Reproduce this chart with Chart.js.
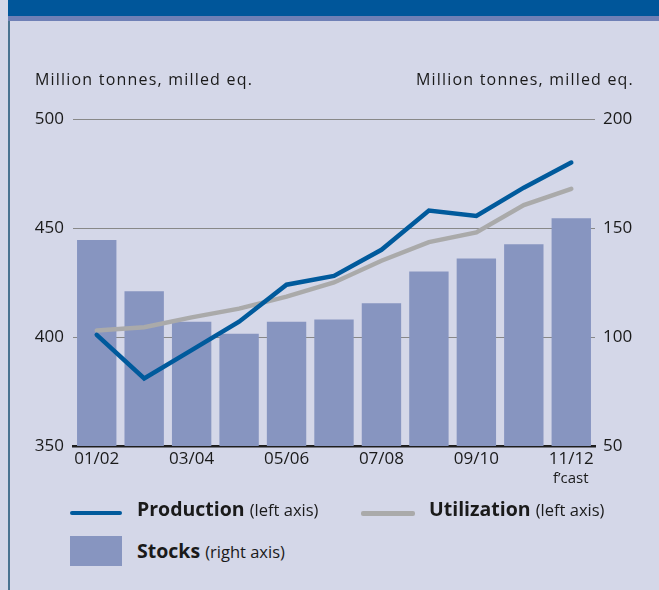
<!DOCTYPE html>
<html>
<head>
<meta charset="utf-8">
<script src="https://cdn.jsdelivr.net/npm/chart.js@4"></script>
<style>
  body { margin: 0; width: 659px; height: 590px; background: #d4d7e8; position: relative; overflow: hidden; font-family: "Open Sans", sans-serif; color: #1a1a1a; }
  #band { position: absolute; left: 8px; top: 0; width: 651px; height: 16px; background: #00569a; }
  #band2 { position: absolute; left: 8px; top: 16px; width: 651px; height: 5px; background: #6f80b6; }
  #edge { position: absolute; left: 8px; top: 21px; width: 2px; height: 569px; background: #4a7391; }
  #wrap { position: absolute; left: 0; top: 0; width: 659px; height: 500px; }
  .ttl { position: absolute; top: 68px; font-size: 16px; letter-spacing: 1.2px; white-space: nowrap; }
  .note { position: absolute; font-size: 15px; }
  .leg { position: absolute; white-space: nowrap; font-size: 19.5px; font-weight: bold; color: #1a1a1a; }
  .leg span { font-size: 16.5px; font-weight: normal; }
</style>
</head>
<body>
<div id="band"></div><div id="band2"></div><div id="edge"></div>
<div id="wrap"><canvas id="chart" width="659" height="500"></canvas></div>
<div class="ttl" style="left:35px">Million tonnes, milled eq.</div>
<div class="ttl" style="right:25px">Million tonnes, milled eq.</div>
<div class="note" style="left:553px;top:467px">f’cast</div>

<div style="position:absolute;left:70px;top:511px;width:52px;height:4px;border-radius:2px;background:#005a9c"></div>
<div class="leg" style="left:137px;top:495px">Production <span>(left axis)</span></div>
<div style="position:absolute;left:361px;top:511px;width:54px;height:5px;border-radius:2px;background:#aaaaaa"></div>
<div class="leg" style="left:429px;top:495px">Utilization <span>(left axis)</span></div>
<div style="position:absolute;left:70px;top:536px;width:52px;height:30px;background:#8795c0"></div>
<div class="leg" style="left:137px;top:537px">Stocks <span>(right axis)</span></div>

<script>
const seasons = ['01/02', '02/03', '03/04', '04/05', '05/06', '06/07', '07/08', '08/09', '09/10', '10/11', '11/12'];
const production = [401, 381, 394, 407, 424, 428, 440, 458, 455.5, 468.5, 480];
const utilization = [403, 404.5, 409, 413, 418.5, 425, 435, 443.5, 448, 460.5, 468];
const stocks = [144.5, 121, 107, 101.5, 107, 108, 115.5, 130, 136, 142.5, 154.5];
const leftTicks = [350, 400, 450, 500];
const rightTicks = [50, 100, 150, 200];

const ctx = document.getElementById('chart').getContext('2d');

new Chart(ctx, {
    type: 'bar',
    data: {
        labels: seasons,
        datasets: [
            {
                type: 'line',
                label: 'Production',
                data: production,
                yAxisID: 'yL',
                borderColor: '#005a9c',
                borderWidth: 4.5,
                borderCapStyle: 'round',
                pointRadius: 0,
                tension: 0,
                order: 0
            },
            {
                type: 'line',
                label: 'Utilization',
                data: utilization,
                yAxisID: 'yL',
                borderColor: '#aaaaaa',
                borderWidth: 4.5,
                borderCapStyle: 'round',
                pointRadius: 0,
                tension: 0,
                order: 1
            },
            {
                label: 'Stocks',
                data: stocks,
                yAxisID: 'yR',
                backgroundColor: '#8795c0',
                categoryPercentage: 1,
                barPercentage: 0.83,
                order: 2
            }
        ]
    },
    options: {
        responsive: false,
        animation: false,
        events: [],
        layout: { padding: { top: 119, left: 0, right: 0, bottom: 0 } },
        plugins: { legend: { display: false }, tooltip: { enabled: false } },
        scales: {
            x: {
                grid: { display: false, drawTicks: false },
                border: { display: true, color: '#1e1e1e', width: 2.5 },
                ticks: {
                    autoSkip: false, maxRotation: 0, padding: 3,
                    color: '#1a1a1a', font: { family: 'Open Sans', size: 17 },
                    callback: (v, i) => (i % 2 === 0 ? seasons[i] : '')
                },
                afterFit: s => { s.height = 54; }
            },
            yL: {
                position: 'left', min: 350, max: 500,
                afterBuildTicks: s => { s.ticks = leftTicks.map(v => ({ value: v })); },
                grid: { color: '#888888', lineWidth: 1, drawTicks: false },
                border: { display: false },
                ticks: { padding: 9, color: '#1a1a1a', font: { family: 'Open Sans', size: 17 } },
                afterFit: s => { s.width = 73; }
            },
            yR: {
                position: 'right', min: 50, max: 200,
                afterBuildTicks: s => { s.ticks = rightTicks.map(v => ({ value: v })); },
                grid: { display: false, drawTicks: false },
                border: { display: false },
                ticks: { padding: 8, color: '#1a1a1a', font: { family: 'Open Sans', size: 17 } },
                afterFit: s => { s.width = 64; }
            }
        }
    }
});
</script>
</body>
</html>
